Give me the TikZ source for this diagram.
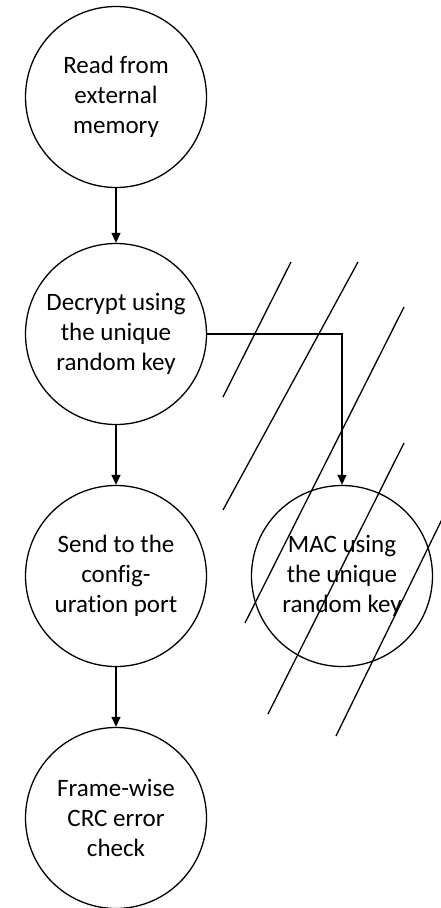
\documentclass[tikz,border=0pt]{standalone}
\usepackage{fontspec}
\setmainfont{Carlito}[Ligatures=CommonOff]
\usetikzlibrary{arrows.meta}
\begin{document}
\begin{tikzpicture}[x=1pt,y=-1pt,
  stage/.style={circle,draw,line width=1.3pt,minimum size=181pt,inner sep=0pt,
    align=center,font=\fontsize{25}{30}\selectfont},
  flow/.style={draw,line width=1.3pt,-{Triangle[length=10pt,width=9pt]}},
  hatch/.style={line width=1.3pt}]
  \useasboundingbox (0,0) rectangle (440,908);

  % process stages
  \node[stage] (read)    at (116,97)  {Read from\\external\\memory};
  \node[stage] (decrypt) at (116,334) {Decrypt using\\the unique\\random key};
  \node[stage] (send)    at (116,576) {Send to the\\config-\\uration port};
  \node[stage] (frame)   at (116,818) {Frame-wise\\CRC error\\check};
  \node[stage] (mac)     at (342,576) {MAC using\\the unique\\random key};

  % connectors
  \draw[flow] (read) -- (decrypt);
  \draw[flow] (decrypt) -- (send);
  \draw[flow] (send) -- (frame);
  \draw[flow] (decrypt.east) -| (mac.north);

  % strike-through hatching over the MAC branch
  \draw[hatch] (291,262) -- (223,397);
  \draw[hatch] (358,262) -- (223,510);
  \draw[hatch] (404,307) -- (245,623);
  \draw[hatch] (404,443) -- (268,714);
  \draw[hatch] (449,505) -- (336,736);
\end{tikzpicture}
\end{document}
